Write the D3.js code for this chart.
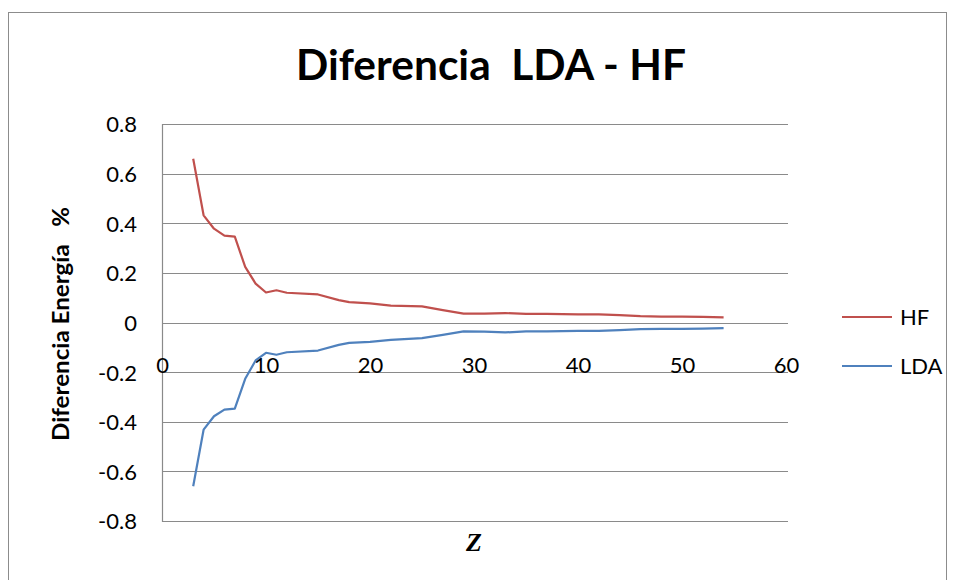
<!DOCTYPE html>
<html>
<head>
<meta charset="utf-8">
<script src="https://cdn.jsdelivr.net/npm/d3@7"></script>
<style>
  html, body { margin: 0; padding: 0; background: #fff; }
  svg { display: block; }
  text { font-family: Lato, "Open Sans", sans-serif; fill: #000; white-space: pre; }
</style>
</head>
<body>
<svg id="chart" width="955" height="580"></svg>
<script>
// Atomic number Z for each computed element
const zValues = [3, 4, 5, 6, 7, 8, 9, 10, 11, 12, 15, 17, 18, 20, 22, 25, 27, 29, 31, 33, 35, 37, 40, 42, 44, 46, 48, 50, 52, 54];

// Energy difference (%) of each method
const hfValues = [0.660, 0.432, 0.378, 0.350, 0.346, 0.224, 0.157, 0.121, 0.130, 0.120,
                  0.113, 0.090, 0.082, 0.077, 0.068, 0.065, 0.050, 0.036, 0.036, 0.038,
                  0.035, 0.035, 0.033, 0.033, 0.030, 0.026, 0.024, 0.024, 0.023, 0.021];
const ldaValues = [-0.660, -0.432, -0.378, -0.351, -0.347, -0.227, -0.153, -0.122, -0.130, -0.120,
                   -0.113, -0.090, -0.082, -0.078, -0.070, -0.063, -0.050, -0.036, -0.037, -0.040,
                   -0.036, -0.036, -0.034, -0.034, -0.031, -0.027, -0.026, -0.026, -0.025, -0.023];

const seriesNames = ["HF", "LDA"];
const seriesColors = ["#C0504D", "#4F81BD"];

const xTicks = [0, 10, 20, 30, 40, 50, 60];
const yTicks = [0.8, 0.6, 0.4, 0.2, 0, -0.2, -0.4, -0.6, -0.8];

const titleText = "Diferencia  LDA - HF";
const yTitleText = "Diferencia Energía   %";
const xTitleText = "Z";

const svg = d3.select("#chart");

// chart frame
svg.append("rect")
  .attr("x", 8.5).attr("y", 12.5)
  .attr("width", 938).attr("height", 620)
  .attr("fill", "none").attr("stroke", "#8c8c8c").attr("stroke-width", 1);

const x = d3.scaleLinear().domain([0, 60]).range([162, 786]);
const y = d3.scaleLinear().domain([-0.8, 0.8]).range([521, 124]);

// plain hyphen-minus for negative numbers
const fmtY = d => d === 0 ? "0" : d3.format(".1f")(d).replace("\u2212", "-");

// horizontal gridlines
svg.append("g")
  .selectAll("line")
  .data(yTicks)
  .join("line")
  .attr("x1", x(0)).attr("x2", x(60) + 2)
  .attr("y1", d => Math.round(y(d)) + 0.5)
  .attr("y2", d => Math.round(y(d)) + 0.5)
  .attr("stroke", "#8a8a8a").attr("stroke-width", 1.2);

// vertical axis line
svg.append("line")
  .attr("x1", x(0) + 0.5).attr("x2", x(0) + 0.5)
  .attr("y1", y(0.8)).attr("y2", y(-0.8) + 1)
  .attr("stroke", "#8a8a8a").attr("stroke-width", 1.2);

// y tick labels
const yAxis = d3.axisLeft(y).tickValues(yTicks).tickSize(0).tickPadding(0).tickFormat(fmtY);
const gy = svg.append("g").attr("transform", `translate(137,0)`).call(yAxis);
gy.select(".domain").remove();
gy.selectAll("text")
  .attr("font-family", "Lato, sans-serif")
  .attr("font-size", 22)
  .attr("fill", "#000")
  .attr("dy", "0.36em");

// x tick labels (axis crosses at y = 0, labels sit just above the -0.2 gridline)
const xAxis = d3.axisBottom(x).tickValues(xTicks).tickSize(0).tickPadding(0)
  .tickFormat(d3.format("d"));
const gx = svg.append("g").attr("transform", `translate(0,373)`).call(xAxis);
gx.select(".domain").remove();
gx.selectAll("text")
  .attr("font-family", "Lato, sans-serif")
  .attr("font-size", 22)
  .attr("fill", "#000")
  .attr("y", 0)
  .attr("dy", 0);

// series lines
const series = [hfValues, ldaValues];
const line = d3.line().x((d, i) => x(zValues[i])).y(d => y(d));
svg.append("g")
  .selectAll("path")
  .data(series)
  .join("path")
  .attr("d", d => line(d))
  .attr("fill", "none")
  .attr("stroke", (d, i) => seriesColors[i])
  .attr("stroke-width", 2.2)
  .attr("stroke-linejoin", "round");

// title
svg.append("text")
  .attr("x", 491).attr("y", 80)
  .attr("text-anchor", "middle")
  .attr("font-weight", "bold")
  .attr("font-size", 42)
  .attr("textLength", 390)
  .attr("lengthAdjust", "spacingAndGlyphs")
  .text(titleText);

// y axis title
svg.append("text")
  .attr("transform", "translate(69,324) rotate(-90)")
  .attr("text-anchor", "middle")
  .attr("font-weight", "bold")
  .attr("font-size", 22)
  .attr("textLength", 234)
  .attr("lengthAdjust", "spacingAndGlyphs")
  .text(yTitleText);

// x axis title
svg.append("text")
  .attr("x", 474).attr("y", 551)
  .attr("text-anchor", "middle")
  .attr("font-style", "italic")
  .attr("font-weight", "bold")
  .attr("font-size", 26)
  .style("font-family", "'Liberation Serif', serif")
  .text(xTitleText);

// legend
const legend = svg.append("g")
  .selectAll("g")
  .data(seriesNames)
  .join("g")
  .attr("transform", (d, i) => `translate(842,${317 + i * 49})`);
legend.append("line")
  .attr("x1", 0).attr("x2", 50)
  .attr("stroke", (d, i) => seriesColors[i])
  .attr("stroke-width", 2.2);
legend.append("text")
  .attr("x", 58).attr("dy", "0.36em")
  .attr("font-size", 22)
  .text(d => d);
</script>
</body>
</html>
